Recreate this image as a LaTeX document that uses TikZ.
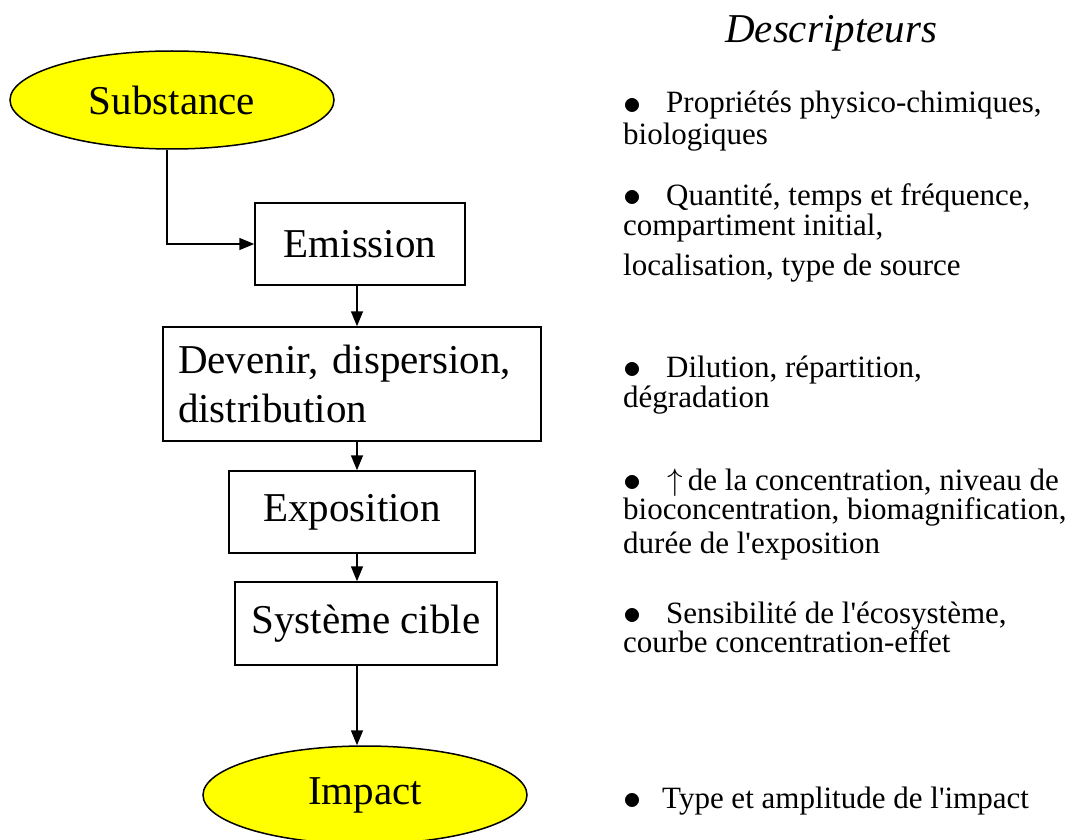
\documentclass[tikz,border=0pt]{standalone}
\usepackage{fontspec}
\setmainfont{Liberation Serif}
\usetikzlibrary{shapes.geometric,arrows.meta}
\definecolor{jaune}{RGB}{255,255,0}
\newcommand{\GRAND}{\fontsize{41}{49}\selectfont}
\newcommand{\PETIT}{\fontsize{31}{30}\selectfont}
\newcommand{\puce}[1]{\makebox[#1][l]{\raisebox{-1.5pt}{\scalebox{1.45}{$\bullet$}}}}
\newcommand{\hausse}{\scalebox{1.25}{$\uparrow$}}
\newcommand{\apos}{\textquotesingle}

\begin{document}
\begin{tikzpicture}[
  bulle/.style={ellipse,draw,line width=1.5pt,fill=jaune,inner sep=0pt,
    minimum width=324pt,minimum height=98pt,font=\GRAND},
  boite/.style={rectangle,draw,line width=1.5pt,inner sep=0pt,font=\GRAND},
  fleche/.style={line width=1.5pt,-{Triangle[length=15pt,width=12pt]}},
  descr/.style={anchor=base west,inner sep=0pt,font=\PETIT}
]
  \useasboundingbox (0pt,0pt) rectangle (1084pt,-840pt);

  %% axe des fleches
  \coordinate (axe) at (357pt,0pt);

  %% etapes
  \node[bulle] (subst) at (172pt,-100pt) {Substance};
  \node[boite,minimum width=210pt,minimum height=82pt] (emis) at (360pt,-244pt) {Emission};
  \node[boite,text width=348pt,inner xsep=15pt,minimum height=114pt,align=left]
  (dev) at (352pt,-384pt) {Devenir, dispersion,\\distribution};
  \node[boite,minimum width=246pt,minimum height=82pt] (expo) at (352pt,-512pt) {Exposition};
  \node[boite,minimum width=262pt,minimum height=83pt] (syst) at (366pt,-623.5pt) {Système cible};
  \node[bulle] (impact) at (365pt,-795pt) {Impact};

  %% fleches
  \draw[fleche] ([xshift=-5pt]subst.south) |- (emis.west);
  \draw[fleche] (emis.south -| axe) -- (dev.north -| axe);
  \draw[fleche] (dev.south -| axe) -- (expo.north -| axe);
  \draw[fleche] (expo.south -| axe) -- (syst.north -| axe);
  \draw[fleche] (syst.south -| axe) -- (impact.north -| axe);

  %% descripteurs
  \node[anchor=base west,inner sep=0pt,font=\GRAND\itshape] (titre) at (725pt,-43pt) {Descripteurs};
  \node[descr] (d1a) at (623pt,-113pt) {\puce{43pt}Propriétés physico-chimiques,};
  \node[descr] (d1b) at (623pt,-145pt) {biologiques};
  \node[descr] (d2a) at (623pt,-205pt) {\puce{43pt}Quantité, temps et fréquence,};
  \node[descr] (d2b) at (623pt,-235pt) {compartiment initial,};
  \node[descr] (d2c) at (623pt,-275pt) {localisation, type de source};
  \node[descr] (d3a) at (623pt,-377pt) {\puce{43pt}Dilution, répartition,};
  \node[descr] (d3b) at (623pt,-407pt) {dégradation};
  \node[descr] (d4a) at (623pt,-490pt) {\puce{44pt}\hausse\,de la concentration, niveau de};
  \node[descr] (d4b) at (623pt,-519pt) {bioconcentration, biomagnification,};
  \node[descr] (d4c) at (623pt,-553pt) {durée de l\apos exposition};
  \node[descr] (d5a) at (623pt,-623pt) {\puce{43pt}Sensibilité de l\apos écosystème,};
  \node[descr] (d5b) at (623pt,-652pt) {courbe concentration-effet};
  \node[descr] (d6) at (623pt,-808pt) {\puce{39pt}Type et amplitude de l\apos impact};

\end{tikzpicture}
\end{document}
